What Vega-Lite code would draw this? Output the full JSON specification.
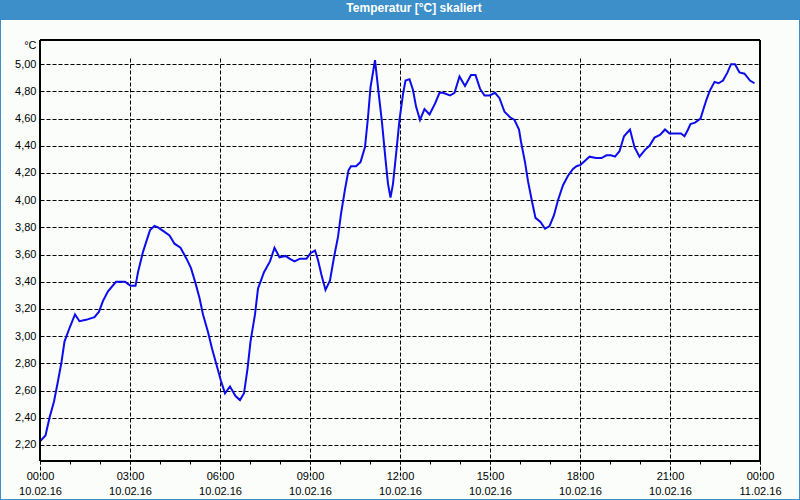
{
  "$schema": "https://vega.github.io/schema/vega-lite/v6.json",
  "autosize": "none",
  "width": 798,
  "height": 479,
  "padding": {"top": 20, "left": 1, "right": 1, "bottom": 1},
  "background": "#3C8FC8",
  "view": {"fill": "#FAFDFA", "stroke": null},
  "title": {
    "text": "Temperatur [°C] skaliert",
    "color": "#FFFFFF",
    "font": "Liberation Sans",
    "fontSize": 12,
    "fontWeight": "bold",
    "anchor": "middle",
    "baseline": "middle",
    "offset": 0,
    "dx": 14
  },
  "config": {
    "axis": {
      "labelFont": "Liberation Sans",
      "labelFontSize": 11,
      "labelColor": "#000000",
      "titleFont": "Liberation Sans",
      "titleFontSize": 11,
      "titleColor": "#000000",
      "domainColor": "#000000",
      "tickColor": "#000000",
      "gridColor": "#000000",
      "gridDash": [4, 2],
      "gridWidth": 1
    }
  },
  "data": {
    "values": [
      {"t": "2016-02-10T00:01Z", "v": 2.23},
      {"t": "2016-02-10T00:11Z", "v": 2.27},
      {"t": "2016-02-10T00:19Z", "v": 2.40},
      {"t": "2016-02-10T00:28Z", "v": 2.52},
      {"t": "2016-02-10T00:36Z", "v": 2.67},
      {"t": "2016-02-10T00:43Z", "v": 2.81},
      {"t": "2016-02-10T00:49Z", "v": 2.96},
      {"t": "2016-02-10T00:59Z", "v": 3.06},
      {"t": "2016-02-10T01:10Z", "v": 3.16},
      {"t": "2016-02-10T01:19Z", "v": 3.11},
      {"t": "2016-02-10T01:32Z", "v": 3.12},
      {"t": "2016-02-10T01:49Z", "v": 3.14},
      {"t": "2016-02-10T01:58Z", "v": 3.18},
      {"t": "2016-02-10T02:06Z", "v": 3.26},
      {"t": "2016-02-10T02:16Z", "v": 3.33},
      {"t": "2016-02-10T02:32Z", "v": 3.40},
      {"t": "2016-02-10T02:50Z", "v": 3.40},
      {"t": "2016-02-10T03:01Z", "v": 3.37},
      {"t": "2016-02-10T03:11Z", "v": 3.37},
      {"t": "2016-02-10T03:16Z", "v": 3.47},
      {"t": "2016-02-10T03:26Z", "v": 3.62},
      {"t": "2016-02-10T03:40Z", "v": 3.78},
      {"t": "2016-02-10T03:49Z", "v": 3.81},
      {"t": "2016-02-10T03:56Z", "v": 3.80},
      {"t": "2016-02-10T04:04Z", "v": 3.78},
      {"t": "2016-02-10T04:19Z", "v": 3.74},
      {"t": "2016-02-10T04:29Z", "v": 3.68},
      {"t": "2016-02-10T04:41Z", "v": 3.65},
      {"t": "2016-02-10T04:53Z", "v": 3.57},
      {"t": "2016-02-10T05:02Z", "v": 3.50},
      {"t": "2016-02-10T05:11Z", "v": 3.39},
      {"t": "2016-02-10T05:19Z", "v": 3.28},
      {"t": "2016-02-10T05:26Z", "v": 3.16},
      {"t": "2016-02-10T05:36Z", "v": 3.03},
      {"t": "2016-02-10T05:44Z", "v": 2.91},
      {"t": "2016-02-10T05:53Z", "v": 2.79},
      {"t": "2016-02-10T06:02Z", "v": 2.67},
      {"t": "2016-02-10T06:10Z", "v": 2.58},
      {"t": "2016-02-10T06:20Z", "v": 2.63},
      {"t": "2016-02-10T06:31Z", "v": 2.56},
      {"t": "2016-02-10T06:40Z", "v": 2.53},
      {"t": "2016-02-10T06:48Z", "v": 2.58},
      {"t": "2016-02-10T06:55Z", "v": 2.76},
      {"t": "2016-02-10T07:01Z", "v": 2.96},
      {"t": "2016-02-10T07:10Z", "v": 3.16},
      {"t": "2016-02-10T07:16Z", "v": 3.35},
      {"t": "2016-02-10T07:28Z", "v": 3.47},
      {"t": "2016-02-10T07:40Z", "v": 3.55},
      {"t": "2016-02-10T07:49Z", "v": 3.65},
      {"t": "2016-02-10T07:59Z", "v": 3.58},
      {"t": "2016-02-10T08:11Z", "v": 3.59},
      {"t": "2016-02-10T08:19Z", "v": 3.57},
      {"t": "2016-02-10T08:29Z", "v": 3.55},
      {"t": "2016-02-10T08:40Z", "v": 3.57},
      {"t": "2016-02-10T08:53Z", "v": 3.57},
      {"t": "2016-02-10T09:01Z", "v": 3.61},
      {"t": "2016-02-10T09:10Z", "v": 3.63},
      {"t": "2016-02-10T09:16Z", "v": 3.56},
      {"t": "2016-02-10T09:23Z", "v": 3.45},
      {"t": "2016-02-10T09:31Z", "v": 3.34},
      {"t": "2016-02-10T09:40Z", "v": 3.41},
      {"t": "2016-02-10T09:48Z", "v": 3.58},
      {"t": "2016-02-10T09:56Z", "v": 3.73},
      {"t": "2016-02-10T10:02Z", "v": 3.90},
      {"t": "2016-02-10T10:10Z", "v": 4.08},
      {"t": "2016-02-10T10:17Z", "v": 4.22},
      {"t": "2016-02-10T10:22Z", "v": 4.25},
      {"t": "2016-02-10T10:32Z", "v": 4.25},
      {"t": "2016-02-10T10:41Z", "v": 4.28},
      {"t": "2016-02-10T10:50Z", "v": 4.39},
      {"t": "2016-02-10T10:56Z", "v": 4.61},
      {"t": "2016-02-10T11:01Z", "v": 4.83},
      {"t": "2016-02-10T11:10Z", "v": 5.03},
      {"t": "2016-02-10T11:16Z", "v": 4.83},
      {"t": "2016-02-10T11:24Z", "v": 4.57},
      {"t": "2016-02-10T11:31Z", "v": 4.30},
      {"t": "2016-02-10T11:36Z", "v": 4.12},
      {"t": "2016-02-10T11:41Z", "v": 4.02},
      {"t": "2016-02-10T11:46Z", "v": 4.12},
      {"t": "2016-02-10T11:53Z", "v": 4.37},
      {"t": "2016-02-10T11:59Z", "v": 4.59},
      {"t": "2016-02-10T12:06Z", "v": 4.78},
      {"t": "2016-02-10T12:11Z", "v": 4.88},
      {"t": "2016-02-10T12:19Z", "v": 4.89},
      {"t": "2016-02-10T12:26Z", "v": 4.81},
      {"t": "2016-02-10T12:32Z", "v": 4.69},
      {"t": "2016-02-10T12:40Z", "v": 4.59},
      {"t": "2016-02-10T12:49Z", "v": 4.67},
      {"t": "2016-02-10T12:59Z", "v": 4.63},
      {"t": "2016-02-10T13:10Z", "v": 4.71},
      {"t": "2016-02-10T13:19Z", "v": 4.79},
      {"t": "2016-02-10T13:26Z", "v": 4.79},
      {"t": "2016-02-10T13:40Z", "v": 4.77},
      {"t": "2016-02-10T13:49Z", "v": 4.79},
      {"t": "2016-02-10T13:59Z", "v": 4.91},
      {"t": "2016-02-10T14:10Z", "v": 4.84},
      {"t": "2016-02-10T14:22Z", "v": 4.92},
      {"t": "2016-02-10T14:31Z", "v": 4.92},
      {"t": "2016-02-10T14:40Z", "v": 4.82},
      {"t": "2016-02-10T14:49Z", "v": 4.77},
      {"t": "2016-02-10T14:59Z", "v": 4.77},
      {"t": "2016-02-10T15:10Z", "v": 4.79},
      {"t": "2016-02-10T15:19Z", "v": 4.75},
      {"t": "2016-02-10T15:29Z", "v": 4.65},
      {"t": "2016-02-10T15:40Z", "v": 4.61},
      {"t": "2016-02-10T15:49Z", "v": 4.59},
      {"t": "2016-02-10T15:58Z", "v": 4.52},
      {"t": "2016-02-10T16:02Z", "v": 4.43},
      {"t": "2016-02-10T16:10Z", "v": 4.28},
      {"t": "2016-02-10T16:16Z", "v": 4.14},
      {"t": "2016-02-10T16:24Z", "v": 3.99},
      {"t": "2016-02-10T16:31Z", "v": 3.87},
      {"t": "2016-02-10T16:41Z", "v": 3.84},
      {"t": "2016-02-10T16:50Z", "v": 3.79},
      {"t": "2016-02-10T16:59Z", "v": 3.81},
      {"t": "2016-02-10T17:08Z", "v": 3.89},
      {"t": "2016-02-10T17:16Z", "v": 4.00},
      {"t": "2016-02-10T17:26Z", "v": 4.11},
      {"t": "2016-02-10T17:36Z", "v": 4.18},
      {"t": "2016-02-10T17:46Z", "v": 4.23},
      {"t": "2016-02-10T17:53Z", "v": 4.25},
      {"t": "2016-02-10T18:01Z", "v": 4.26},
      {"t": "2016-02-10T18:10Z", "v": 4.29},
      {"t": "2016-02-10T18:19Z", "v": 4.32},
      {"t": "2016-02-10T18:32Z", "v": 4.31},
      {"t": "2016-02-10T18:43Z", "v": 4.31},
      {"t": "2016-02-10T18:53Z", "v": 4.33},
      {"t": "2016-02-10T19:02Z", "v": 4.33},
      {"t": "2016-02-10T19:10Z", "v": 4.32},
      {"t": "2016-02-10T19:19Z", "v": 4.36},
      {"t": "2016-02-10T19:28Z", "v": 4.47},
      {"t": "2016-02-10T19:40Z", "v": 4.52},
      {"t": "2016-02-10T19:49Z", "v": 4.39},
      {"t": "2016-02-10T19:59Z", "v": 4.32},
      {"t": "2016-02-10T20:10Z", "v": 4.37},
      {"t": "2016-02-10T20:19Z", "v": 4.40},
      {"t": "2016-02-10T20:29Z", "v": 4.46},
      {"t": "2016-02-10T20:40Z", "v": 4.48},
      {"t": "2016-02-10T20:50Z", "v": 4.52},
      {"t": "2016-02-10T20:59Z", "v": 4.49},
      {"t": "2016-02-10T21:10Z", "v": 4.49},
      {"t": "2016-02-10T21:22Z", "v": 4.49},
      {"t": "2016-02-10T21:29Z", "v": 4.47},
      {"t": "2016-02-10T21:36Z", "v": 4.52},
      {"t": "2016-02-10T21:41Z", "v": 4.56},
      {"t": "2016-02-10T21:50Z", "v": 4.57},
      {"t": "2016-02-10T22:01Z", "v": 4.60},
      {"t": "2016-02-10T22:06Z", "v": 4.66},
      {"t": "2016-02-10T22:13Z", "v": 4.74},
      {"t": "2016-02-10T22:19Z", "v": 4.80},
      {"t": "2016-02-10T22:29Z", "v": 4.87},
      {"t": "2016-02-10T22:37Z", "v": 4.86},
      {"t": "2016-02-10T22:46Z", "v": 4.88},
      {"t": "2016-02-10T22:55Z", "v": 4.94},
      {"t": "2016-02-10T23:02Z", "v": 5.00},
      {"t": "2016-02-10T23:10Z", "v": 5.00},
      {"t": "2016-02-10T23:19Z", "v": 4.94},
      {"t": "2016-02-10T23:29Z", "v": 4.93},
      {"t": "2016-02-10T23:40Z", "v": 4.88},
      {"t": "2016-02-10T23:49Z", "v": 4.86}
    ]
  },
  "layer": [
    {
      "mark": {"type": "line", "color": "#0C0CEC", "strokeWidth": 2, "interpolate": "linear"},
      "encoding": {
        "x": {
          "field": "t",
          "type": "temporal",
          "scale": {
            "type": "utc",
            "domain": [
              {"year": 2016, "month": 2, "date": 10, "hours": 0, "utc": true},
              {"year": 2016, "month": 2, "date": 11, "hours": 0, "utc": true}
            ],
            "range": [39, 759],
            "nice": false
          },
          "axis": {
            "orient": "bottom",
            "offset": -38,
            "title": null,
            "tickCount": 100,
            "values": [
              {"year": 2016, "month": 2, "date": 10, "hours": 0, "utc": true},
              {"year": 2016, "month": 2, "date": 10, "hours": 1, "utc": true},
              {"year": 2016, "month": 2, "date": 10, "hours": 2, "utc": true},
              {"year": 2016, "month": 2, "date": 10, "hours": 3, "utc": true},
              {"year": 2016, "month": 2, "date": 10, "hours": 4, "utc": true},
              {"year": 2016, "month": 2, "date": 10, "hours": 5, "utc": true},
              {"year": 2016, "month": 2, "date": 10, "hours": 6, "utc": true},
              {"year": 2016, "month": 2, "date": 10, "hours": 7, "utc": true},
              {"year": 2016, "month": 2, "date": 10, "hours": 8, "utc": true},
              {"year": 2016, "month": 2, "date": 10, "hours": 9, "utc": true},
              {"year": 2016, "month": 2, "date": 10, "hours": 10, "utc": true},
              {"year": 2016, "month": 2, "date": 10, "hours": 11, "utc": true},
              {"year": 2016, "month": 2, "date": 10, "hours": 12, "utc": true},
              {"year": 2016, "month": 2, "date": 10, "hours": 13, "utc": true},
              {"year": 2016, "month": 2, "date": 10, "hours": 14, "utc": true},
              {"year": 2016, "month": 2, "date": 10, "hours": 15, "utc": true},
              {"year": 2016, "month": 2, "date": 10, "hours": 16, "utc": true},
              {"year": 2016, "month": 2, "date": 10, "hours": 17, "utc": true},
              {"year": 2016, "month": 2, "date": 10, "hours": 18, "utc": true},
              {"year": 2016, "month": 2, "date": 10, "hours": 19, "utc": true},
              {"year": 2016, "month": 2, "date": 10, "hours": 20, "utc": true},
              {"year": 2016, "month": 2, "date": 10, "hours": 21, "utc": true},
              {"year": 2016, "month": 2, "date": 10, "hours": 22, "utc": true},
              {"year": 2016, "month": 2, "date": 10, "hours": 23, "utc": true},
              {"year": 2016, "month": 2, "date": 11, "hours": 0, "utc": true}
            ],
            "grid": true,
            "gridOpacity": {"condition": {"test": "utchours(datum.value) % 3 === 0", "value": 1}, "value": 0},
            "ticks": true,
            "tickSize": 3,
            "domain": true,
            "labelExpr": "utchours(datum.value) % 3 === 0 ? [utcFormat(datum.value, '%H:%M'), utcFormat(datum.value, '%d.%m.%y')] : ''",
            "labelAlign": "center",
            "labelBaseline": "top",
            "labelLineHeight": 15,
            "labelPadding": 6,
            "labelFlush": false,
            "labelOverlap": false,
            "labelBound": false
          }
        },
        "y": {
          "field": "v",
          "type": "quantitative",
          "scale": {"domain": [2.082, 5.178], "range": [441, 20], "nice": false, "zero": false},
          "axis": {
            "orient": "left",
            "offset": -39,
            "tickCount": 100,
            "values": [2.2, 2.4, 2.6, 2.8, 3.0, 3.2, 3.4, 3.6, 3.8, 4.0, 4.2, 4.4, 4.6, 4.8, 5.0],
            "grid": true,
            "ticks": false,
            "tickSize": 0,
            "domain": true,
            "labelPadding": 4,
            "labelOverlap": false,
            "labelExpr": "replace(format(datum.value, '.2f'), '.', ',')",
            "title": "°C",
            "titleAngle": 0,
            "titleAlign": "right",
            "titleBaseline": "middle",
            "titleFontWeight": "normal",
            "titleX": -4,
            "titleY": 25.5
          }
        }
      }
    },
    {
      "mark": {"type": "rect", "fill": null, "stroke": "#000000", "strokeWidth": 1},
      "encoding": {
        "x": {"datum": {"year": 2016, "month": 2, "date": 10, "hours": 0, "utc": true}, "type": "temporal"},
        "x2": {"datum": {"year": 2016, "month": 2, "date": 11, "hours": 0, "utc": true}},
        "y": {"datum": 2.082, "type": "quantitative"},
        "y2": {"datum": 5.178}
      }
    }
  ]
}
